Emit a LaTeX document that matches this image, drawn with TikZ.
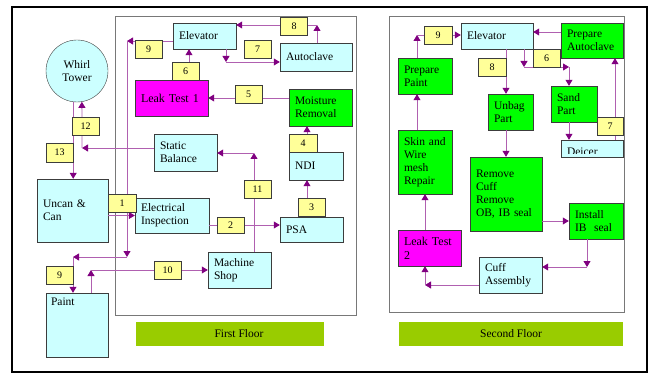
\documentclass[tikz,border=0pt]{standalone}
\usepackage{fontspec}
\setmainfont{Liberation Serif}
\usetikzlibrary{arrows.meta}
\definecolor{FloorCyan}{RGB}{204,255,255}
\definecolor{FloorGreen}{RGB}{0,255,0}
\definecolor{FloorMagenta}{RGB}{255,0,255}
\definecolor{FloorTag}{RGB}{255,255,153}
\definecolor{FloorBar}{RGB}{153,204,0}
\definecolor{FloorEdge}{RGB}{60,60,60}
\definecolor{FloorPanel}{RGB}{120,120,120}
\definecolor{FlowLine}{RGB}{176,96,176}
\definecolor{FlowHead}{RGB}{128,0,128}
\tikzset{
  floor/room/.style 2 args={
    draw=FloorEdge,
    fill=FloorCyan,
    minimum width=#1,
    minimum height=#2,
    text width=#1-12pt,
    inner xsep=6pt,
    inner ysep=0pt,
    align=left,
    font=\fontsize{11.5}{13}\selectfont
  },
  floor/work/.style 2 args={floor/room={#1}{#2}, fill=FloorGreen},
  floor/test/.style 2 args={floor/room={#1}{#2}, fill=FloorMagenta, font=\fontsize{12}{14}\selectfont},
  floor/circ/.style={
    circle,
    draw=FloorEdge,
    fill=FloorCyan,
    minimum size=62pt,
    inner sep=0pt,
    align=center,
    font=\fontsize{11.5}{13}\selectfont
  },
  floor/tag/.style={
    draw=FloorEdge,
    fill=FloorTag,
    minimum width=27pt,
    minimum height=18pt,
    inner sep=0pt,
    font=\fontsize{10}{12}\selectfont
  },
  floor/bar/.style={fill=FloorBar, minimum height=24pt, inner sep=0pt, font=\fontsize{11.5}{13}\selectfont},
  floor/panel/.style={draw=FloorPanel, line width=1pt},
  floor/flow/.style={draw=FlowLine, line width=0.8pt, -{Triangle[length=6pt,width=7pt,color=FlowHead]}}
}

\begin{document}
\begin{tikzpicture}[x=1pt,y=-1pt]
  \useasboundingbox (0,0) rectangle (650,374);
  % frames
  \draw[line width=1.6pt] (12,7) rectangle (647,372);
  \draw[floor/panel] (115,17) rectangle (356,315);
  \draw[floor/panel] (389,17) rectangle (624,312);
  \node[floor/bar,minimum width=188pt] (bar1) at (230,334) {\hspace{18pt}First Floor};
  \node[floor/bar,minimum width=224pt] (bar2) at (511,334) {Second Floor};

  % first floor rooms
  \node[floor/circ] (whirl) at (77,71) {Whirl\\Tower};
  \node[floor/room={63pt}{26pt}] (elev1) at (204.5,36) {Elevator};
  \node[floor/room={72pt}{28pt}] (autoclave) at (316,57) {Autoclave};
  \node[floor/test={73pt}{36pt}] (leak1) at (171.5,98) {Leak Test 1};
  \node[floor/work={63pt}{37pt}] (moist) at (320.5,107.5) {Moisture\\Removal};
  \node[floor/room={54pt}{28pt}] (ndi) at (316,166) {NDI};
  \node[floor/room={63pt}{37pt}] (static) at (185.5,152.5) {Static\\Balance};
  \node[floor/room={71pt}{63pt}] (uncan) at (72.5,210.5) {Uncan \&\\Can};
  \node[floor/room={74pt}{35pt}] (elec) at (172,215.5) {Electrical\\Inspection};
  \node[floor/room={63pt}{25pt}] (psa) at (311.5,229.5) {PSA};
  \node[floor/room={63pt}{36pt}] (mshop) at (239.5,270) {Machine\\Shop};
  \node[floor/room={62pt}{64pt},
    label={[anchor=north west,inner sep=5pt,font=\fontsize{11.5}{13}\selectfont]north west:Paint}] (paint) at (77,325) {};

  % second floor rooms
  \node[floor/room={72pt}{26pt}] (elev2) at (497,36) {Elevator};
  \node[floor/work={62pt}{35pt}] (prepac) at (592,40.5) {Prepare\\Autoclave};
  \node[floor/work={54pt}{36pt}] (prepp) at (425,76) {Prepare\\Paint};
  \node[floor/work={45pt}{36pt}] (unbag) at (510.5,112) {Unbag\\Part};
  \node[floor/work={46pt}{36pt}] (sand) at (574,104) {Sand\\Part};
  \node[floor/room={62pt}{17pt}] (deicer) at (592,148.5) {};
  \begin{scope}
    \clip (deicer.north west) rectangle ([yshift=4pt]deicer.south east);
    \node[anchor=base west,inner sep=0pt,font=\fontsize{11.5}{13}\selectfont] (deicertxt)
      at ([xshift=6pt,yshift=-7.5pt]deicer.west) {Deicer};
  \end{scope}
  \node[floor/work={54pt}{64pt}] (skin) at (425,162) {Skin and\\Wire\\mesh\\Repair};
  \node[floor/work={72pt}{74pt}] (remove) at (506,194) {Remove\\Cuff\\Remove\\OB, IB seal};
  \node[floor/work={54pt}{36pt}] (install) at (596,221) {Install\\IB\ \ seal};
  \node[floor/test={63pt}{36pt}] (leak2) at (429.5,248) {Leak Test\\2};
  \node[floor/room={63pt}{36pt}] (cuff) at (510.5,275) {Cuff\\Assembly};

  % first floor flow
  \coordinate (b9) at (127,41);
  \coordinate (b9b) at (127,257);
  \coordinate (b9c) at (73,257);
  \coordinate (b12) at (82,148);
  \coordinate (b2) at (245,225);
  \coordinate (b11) at (254,153);
  \coordinate (b34) at (307,0);
  \coordinate (b6) at (189,0);
  \coordinate (b7) at (226,62);
  \coordinate (b8) at (317,25);
  \coordinate (b10) at (91,270);
  \draw[floor/flow] (elev1.west |- b9) -- (b9);
  \draw[floor/flow] (b9) -- (b9b);
  \draw[floor/flow] (b9b) -- (b9c);
  \draw[floor/flow] (b9c) -- (b9c |- paint.north);
  \draw[floor/flow] (whirl.263) -- (whirl.263 |- uncan.north);
  \draw[floor/flow] (static.west |- b12) -- (b12);
  \draw[floor/flow] (b12) -- (whirl.279);
  \draw[floor/flow] (uncan.east |- elec.west) -- (elec.west);
  \draw[floor/flow] (elec.east |- b2) -- (psa.west |- b2);
  \draw[floor/flow] (mshop.north -| b11) -- (b11);
  \draw[floor/flow] (b11) -- (static.east |- b11);
  \draw[floor/flow] (psa.north -| b34) -- (ndi.south -| b34);
  \draw[floor/flow] (ndi.north -| b34) -- (moist.south -| b34);
  \draw[floor/flow] (moist.west |- leak1.east) -- (leak1.east);
  \draw[floor/flow] (leak1.north -| b6) -- (elev1.south -| b6);
  \draw[floor/flow] (elev1.south -| b7) -- (b7);
  \draw[floor/flow] (b7) -- (autoclave.west |- b7);
  \draw[floor/flow] (autoclave.north -| b8) -- (b8);
  \draw[floor/flow] (b8) -- (elev1.east |- b8);
  \draw[floor/flow] (paint.north -| b10) -- (b10);
  \draw[floor/flow] (b10) -- (mshop.west);

  % second floor flow
  \coordinate (c9) at (417,35);
  \coordinate (c5) at (545,32);
  \coordinate (c2) at (425,285);
  \coordinate (c4) at (587,267);
  \coordinate (c8) at (506,0);
  \coordinate (c6a) at (524,67);
  \coordinate (c6b) at (569,67);
  \coordinate (c7) at (615,0);
  \draw[floor/flow] (prepp.north -| c9) -- (c9);
  \draw[floor/flow] (c9) -- (elev2.west |- c9);
  \draw[floor/flow] (skin.north -| c9) -- (prepp.south -| c9);
  \draw[floor/flow] (leak2.north -| skin.south) -- (skin.south);
  \draw[floor/flow] (cuff.west |- c2) -- (c2);
  \draw[floor/flow] (c2) -- (leak2.south -| c2);
  \draw[floor/flow] (install.south -| c4) -- (c4);
  \draw[floor/flow] (c4) -- (cuff.east |- c4);
  \draw[floor/flow] (remove.east |- install.west) -- (install.west);
  \draw[floor/flow] (elev2.south -| c8) -- (unbag.north -| c8);
  \draw[floor/flow] (unbag.south -| c8) -- (remove.north -| c8);
  \draw[floor/flow] (prepac.west |- c5) -- (elev2.east |- c5);
  \draw[floor/flow] (elev2.south -| c6a) -- (c6a);
  \draw[floor/flow] (c6a) -- (c6b);
  \draw[floor/flow] (c6b) -- (sand.north -| c6b);
  \draw[floor/flow] (sand.south -| c6b) -- (deicer.north -| c6b);
  \draw[floor/flow] (deicer.north -| c7) -- (prepac.south -| c7);

  % step numbers
  \node[floor/tag] (t9a) at (148.5,49.5) {9};
  \node[floor/tag] (t8a) at (294,26.5) {8};
  \node[floor/tag] (t7a) at (257.5,49.5) {7};
  \node[floor/tag] (t6a) at (185.5,71.5) {6};
  \node[floor/tag] (t5) at (248.5,94.5) {5};
  \node[floor/tag,minimum width=28pt] (t4) at (303,143) {4};
  \node[floor/tag] (t12) at (85.5,126) {12};
  \node[floor/tag,minimum height=19pt] (t13) at (59.5,152.5) {13};
  \node[floor/tag,minimum width=28pt] (t1) at (122,203) {1};
  \node[floor/tag,minimum height=16pt] (t2) at (230.5,225) {2};
  \node[floor/tag] (t3) at (311.5,207) {3};
  \node[floor/tag] (t11) at (257.5,189) {11};
  \node[floor/tag] (t10) at (167.5,270) {10};
  \node[floor/tag] (t9b) at (59.5,275.5) {9};
  \node[floor/tag,minimum width=28pt] (t9c) at (438,35.5) {9};
  \node[floor/tag,minimum width=28pt] (t8b) at (492,67) {8};
  \node[floor/tag] (t6b) at (546.5,58) {6};
  \node[floor/tag,minimum width=26pt] (t7b) at (610,126) {7};
\end{tikzpicture}
\end{document}
